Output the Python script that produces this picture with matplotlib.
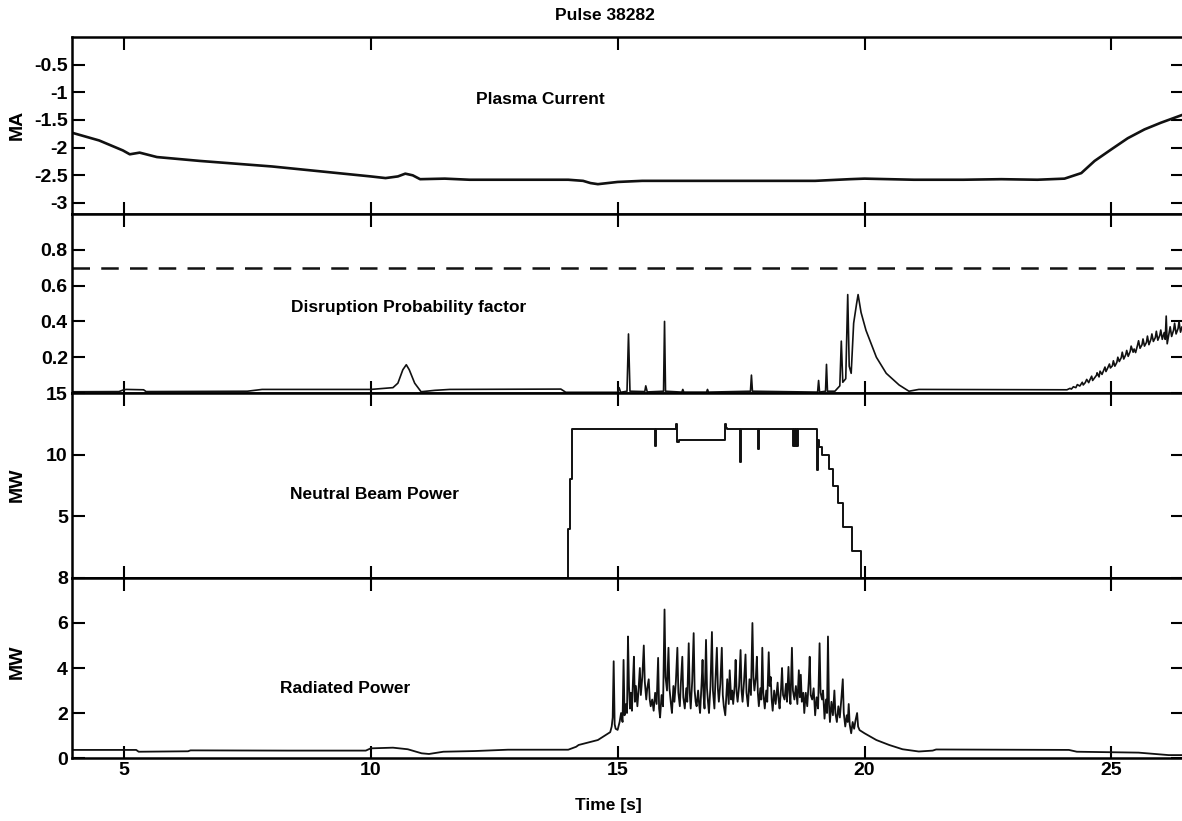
import matplotlib.pyplot as plt

plt.rcParams["font.family"] = ["Liberation Sans", "DejaVu Sans"]
plt.rcParams["font.weight"] = "bold"

# plasma current [MA]
ip_t = [3.95, 4.5, 4.98, 5.12, 5.32, 5.67, 6.54, 8.0, 9.0, 10.0, 10.3, 10.55, 10.7,
        10.85, 11.0, 11.5, 12.0, 14.0, 14.3, 14.45, 14.6, 14.8, 15.0, 15.5, 17.0,
        19.0, 19.7, 20.0, 21.0, 22.0, 22.77, 23.5, 24.05, 24.39, 24.66, 25.0, 25.33,
        25.67, 26.0, 26.46]
ip = [-1.73, -1.87, -2.05, -2.12, -2.09, -2.17, -2.24, -2.34, -2.43, -2.52, -2.55,
      -2.52, -2.47, -2.5, -2.57, -2.56, -2.58, -2.58, -2.6, -2.64, -2.66, -2.64,
      -2.62, -2.6, -2.6, -2.6, -2.57, -2.56, -2.58, -2.58, -2.57, -2.58, -2.56,
      -2.46, -2.24, -2.03, -1.83, -1.67, -1.55, -1.40]

# disruption probability factor
dp_t = [3.95, 4.9, 5.0, 5.05, 5.4, 5.45, 7.5, 7.8, 10.0, 10.45, 10.55, 10.65, 10.72,
        10.78, 10.89, 11.02, 11.3, 11.6, 13.85, 13.95,
        15.0, 15.03, 15.06, 15.19, 15.22, 15.25, 15.55, 15.57, 15.6, 15.93, 15.95,
        15.97, 16.3, 16.32, 16.34, 16.8, 16.82, 16.84, 17.69, 17.71, 17.73, 19.05,
        19.07, 19.09, 19.21, 19.23, 19.25, 19.4, 19.5, 19.53, 19.56, 19.62, 19.66,
        19.69, 19.73, 19.78, 19.84, 19.87, 19.93, 20.03, 20.24, 20.44, 20.7, 20.9,
        21.1,
        24.10, 24.16, 24.19, 24.23, 24.28, 24.31, 24.36, 24.41, 24.43, 24.47, 24.50,
        24.54, 24.56, 24.60, 24.62, 24.66, 24.70, 24.71, 24.75, 24.77, 24.81, 24.83,
        24.87, 24.89, 24.92, 24.96, 24.98, 25.02, 25.04, 25.07, 25.11, 25.13, 25.16,
        25.20, 25.22, 25.25, 25.29, 25.31, 25.34, 25.38, 25.40, 25.44, 25.46, 25.49,
        25.53, 25.55, 25.58, 25.62, 25.64, 25.67, 25.71, 25.73, 25.76, 25.80, 25.82,
        25.85, 25.89, 25.91, 25.94, 25.98, 26.00, 26.03, 26.07, 26.09, 26.11, 26.13,
        26.17, 26.19, 26.22, 26.26, 26.28, 26.31, 26.35, 26.37, 26.40, 26.43, 26.46]
dp = [0.007, 0.008, 0.018, 0.02, 0.018, 0.008, 0.01, 0.02, 0.02, 0.03, 0.055, 0.13,
      0.158, 0.13, 0.055, 0.007, 0.015, 0.02, 0.022, 0.004,
      0.004, 0.03, 0.004, 0.01, 0.33, 0.01, 0.008, 0.04, 0.006, 0.01, 0.40,
      0.01, 0.005, 0.02, 0.005, 0.005, 0.02, 0.005, 0.01, 0.10, 0.01, 0.005,
      0.07, 0.005, 0.01, 0.16, 0.01, 0.01, 0.04, 0.29, 0.06, 0.08, 0.55,
      0.15, 0.11, 0.39, 0.50, 0.55, 0.45, 0.35, 0.20, 0.11, 0.045, 0.01,
      0.02,
      0.018, 0.026, 0.022, 0.035, 0.03, 0.047, 0.039, 0.06, 0.045, 0.058, 0.076,
      0.058, 0.071, 0.094, 0.07, 0.085, 0.1, 0.113, 0.09, 0.122, 0.104, 0.118,
      0.145, 0.12, 0.137, 0.162, 0.14, 0.152, 0.18, 0.15, 0.171, 0.2, 0.176,
      0.198, 0.228, 0.19, 0.214, 0.238, 0.205, 0.232, 0.262, 0.228, 0.246, 0.226,
      0.268, 0.292, 0.25, 0.27, 0.302, 0.262, 0.283, 0.318, 0.27, 0.3, 0.33,
      0.288, 0.31, 0.345, 0.295, 0.322, 0.352, 0.3, 0.338, 0.3, 0.43, 0.275,
      0.338, 0.37, 0.316, 0.352, 0.39, 0.33, 0.36, 0.4, 0.34, 0.37, 0.345]
dp_threshold = 0.7

# neutral beam power [MW] (step signal)
nb_t = [3.95, 14.0, 14.04, 14.08, 15.75, 15.77, 16.19, 16.21, 16.24, 17.17, 17.19,
        17.22, 17.47, 17.49, 17.84, 17.86, 18.56, 18.58, 18.6, 18.62, 18.64, 18.66,
        19.03, 19.05, 19.07, 19.14, 19.28, 19.37, 19.47, 19.57, 19.74, 19.92, 26.46]
nb = [0, 4.0, 8.0, 12.05, 10.7, 12.05, 12.5, 11.0, 11.2, 12.5, 12.2, 12.05, 9.4,
      12.05, 10.5, 12.05, 10.7, 12.05, 10.7, 12.05, 10.7, 12.05, 8.75, 11.2, 10.6,
      10.0, 8.85, 7.47, 6.08, 4.14, 2.2, 0, 0]

# radiated power [MW]
rad_t = [3.95, 5.25, 5.3, 6.3, 6.35, 8.3, 9.9, 10.0, 10.45, 10.75, 11.03, 11.18,
         11.47, 12.1, 12.78, 14.0, 14.16, 14.21, 14.6, 14.85,
         14.88, 14.90, 14.92, 14.94, 14.96, 15.00, 15.04, 15.07, 15.10, 15.12, 15.14,
         15.17, 15.19, 15.21, 15.23, 15.25, 15.27, 15.29, 15.31, 15.33, 15.35, 15.37,
         15.40, 15.42, 15.45, 15.47, 15.50, 15.53, 15.55, 15.58, 15.60, 15.63, 15.65,
         15.67, 15.70, 15.73, 15.76, 15.79, 15.82, 15.84, 15.86, 15.89, 15.92, 15.95,
         15.97, 16.00, 16.03, 16.05, 16.08, 16.10, 16.13, 16.15, 16.18, 16.21, 16.23,
         16.26, 16.28, 16.31, 16.33, 16.36, 16.39, 16.41, 16.44, 16.46, 16.48, 16.51,
         16.54, 16.56, 16.58, 16.60, 16.63, 16.65, 16.67, 16.70, 16.72, 16.74, 16.76,
         16.79, 16.81, 16.83, 16.85, 16.88, 16.91, 16.93, 16.96, 16.98, 17.01, 17.03,
         17.05, 17.08, 17.11, 17.13, 17.15, 17.18, 17.20, 17.22, 17.25, 17.27, 17.30,
         17.32, 17.34, 17.37, 17.39, 17.41, 17.43, 17.46, 17.49, 17.51, 17.53, 17.56,
         17.59, 17.61, 17.64, 17.67, 17.70, 17.73, 17.75, 17.77, 17.80, 17.82, 17.84,
         17.86, 17.89, 17.91, 17.93, 17.95, 17.98, 18.01, 18.03, 18.06, 18.08, 18.10,
         18.12, 18.14, 18.17, 18.20, 18.24, 18.26, 18.28, 18.31, 18.33, 18.35, 18.38,
         18.41, 18.43, 18.46, 18.48, 18.50, 18.53, 18.55, 18.58, 18.61, 18.64, 18.67,
         18.69, 18.71, 18.73, 18.76, 18.78, 18.81, 18.84, 18.87, 18.89, 18.91, 18.94,
         18.97, 19.00, 19.03, 19.06, 19.09, 19.11, 19.14, 19.16, 19.19, 19.22, 19.24,
         19.26, 19.28, 19.30, 19.33, 19.36, 19.39, 19.41, 19.44, 19.47, 19.50, 19.53,
         19.56, 19.58, 19.61, 19.64, 19.66, 19.68, 19.70, 19.73, 19.76, 19.79, 19.82,
         19.85, 19.87, 19.90,
         20.0, 20.24, 20.5, 20.77, 21.1, 21.38, 21.45, 24.14, 24.3, 25.55, 26.16, 26.46]
rad = [0.36, 0.36, 0.28, 0.3, 0.34, 0.33, 0.33, 0.43, 0.46, 0.39, 0.21, 0.18,
       0.28, 0.31, 0.37, 0.37, 0.5, 0.58, 0.8, 1.15,
       1.4, 1.8, 4.3, 1.5, 1.3, 1.25, 1.6, 2.0, 1.6, 4.36, 1.9,
       2.4, 2.0, 5.4, 3.2, 2.2, 2.9, 2.1, 3.4, 4.5, 2.5, 3.2,
       2.3, 2.9, 4.0, 2.8, 3.6, 5.0, 3.4, 2.6, 3.1, 3.5, 2.6,
       2.3, 2.6, 2.1, 2.9, 2.4, 4.45, 2.2, 1.8, 2.8, 2.3, 6.6,
       3.6, 3.0, 4.9, 3.1, 2.4, 2.0, 3.2, 2.5, 3.4, 4.9, 2.9,
       2.3, 3.3, 4.5, 2.7, 2.2, 3.1, 2.5, 5.1, 2.9, 2.2, 3.4,
       5.55, 3.0, 2.5, 2.3, 3.0, 2.4, 2.0, 3.3, 4.36, 2.8, 2.2,
       5.25, 3.1, 2.5, 2.0, 3.2, 5.6, 3.0, 2.2, 3.4, 4.9, 3.1,
       2.5, 3.3, 4.9, 2.8, 2.3, 1.9, 2.7, 3.5, 2.4, 3.9, 2.6,
       3.0, 2.4, 3.2, 4.36, 2.9, 2.5, 3.2, 4.8, 3.0, 2.5, 3.4,
       4.6, 2.9, 2.3, 3.5, 2.8, 6.0, 3.6, 3.0, 3.6, 4.5, 2.9,
       2.3, 3.1, 2.6, 4.9, 2.9, 2.2, 3.0, 2.5, 4.7, 3.2, 3.6,
       2.6, 2.1, 3.0, 2.4, 3.35, 2.6, 2.2, 3.1, 4.0, 2.8, 2.6,
       3.3, 2.5, 4.05, 2.9, 2.4, 4.9, 3.0, 2.6, 3.2, 2.4, 3.9,
       2.7, 3.7, 2.5, 2.9, 2.0, 2.9, 2.3, 3.4, 4.5, 2.8, 2.6,
       3.1, 1.9, 2.7, 2.2, 5.1, 2.9, 2.6, 3.0, 1.75, 2.6, 2.0,
       5.4, 2.4, 1.6, 2.5, 1.9, 3.0, 2.0, 1.6, 2.3, 1.8, 2.6,
       3.5, 2.0, 1.4, 1.9, 1.6, 2.4, 1.5, 1.1, 1.6, 1.3, 1.7,
       2.0, 1.4, 1.24,
       1.1, 0.8, 0.58, 0.39, 0.29, 0.33, 0.38, 0.36, 0.28, 0.24, 0.13, 0.13]

x_ticks = [5, 10, 15, 20, 25]
x_lim = (3.95, 26.45)

fig = plt.figure(figsize=(11.82, 8.21), dpi=100)

# panel edges in figure fraction: (bottom, top)
edges = [(0.7393, 0.9549), (0.5213, 0.7393), (0.2960, 0.5213), (0.0767, 0.2960)]
left, right = 72 / 1182, 1183 / 1182
axes = []
for bottom, top in edges:
    ax = fig.add_axes([left, bottom, right - left, top - bottom])
    ax.set_xlim(*x_lim)
    ax.set_xticks(x_ticks)
    ax.tick_params(direction="in", length=9, width=1.5, top=True, right=True,
                   labelsize=14, pad=3)
    for s in ax.spines.values():
        s.set_linewidth(1.8)
    axes.append(ax)

ax1, ax2, ax3, ax4 = axes
lc = "#111111"

ax1.plot(ip_t, ip, color=lc, lw=1.9)
ax1.set_ylim(-3.2, 0)
ax1.set_yticks([-3, -2.5, -2, -1.5, -1, -0.5])
ax1.set_yticklabels(["-3", "-2.5", "-2", "-1.5", "-1", "-0.5"])
ax1.text(13.44, -1.125, "Plasma Current", ha="center", va="center", fontsize=12.5)

ax2.plot(dp_t, dp, color=lc, lw=1.2)
ax2.axhline(dp_threshold, color=lc, lw=1.8, linestyle=(0, (7, 4.5)))
ax2.set_ylim(0, 1.0)
ax2.set_yticks([0.2, 0.4, 0.6, 0.8])
ax2.set_yticklabels(["0.2", "0.4", "0.6", "0.8"])
ax2.text(10.77, 0.48, "Disruption Probability factor", ha="center", va="center",
         fontsize=12.5)

ax3.plot(nb_t, nb, color=lc, lw=1.4, drawstyle="steps-post")
ax3.set_ylim(0, 15)
ax3.set_yticks([5, 10, 15])
ax3.text(10.08, 6.8, "Neutral Beam Power", ha="center", va="center", fontsize=12.5)

ax4.plot(rad_t, rad, color=lc, lw=1.3)
ax4.set_ylim(0, 8)
ax4.set_yticks([0, 2, 4, 6, 8])
ax4.text(9.49, 3.1, "Radiated Power", ha="center", va="center", fontsize=12.5)

for ax in axes[:3]:
    ax.tick_params(labelbottom=False)
for ax in axes:
    ax.tick_params(labelright=False, labeltop=False)

fig.text(17 / 1182, 1 - 125 / 821, "MA", rotation=90, ha="center", va="center",
         fontsize=14)
fig.text(17 / 1182, 1 - 485 / 821, "MW", rotation=90, ha="center", va="center",
         fontsize=14)
fig.text(17 / 1182, 1 - 662 / 821, "MW", rotation=90, ha="center", va="center",
         fontsize=14)
fig.text(605 / 1182, 1 - 15 / 821, "Pulse 38282", ha="center", va="center",
         fontsize=12.5)
fig.text(608 / 1182, 1 - 805 / 821, "Time [s]", ha="center", va="center",
         fontsize=12.5)

fig.savefig("out.png", dpi=100)
